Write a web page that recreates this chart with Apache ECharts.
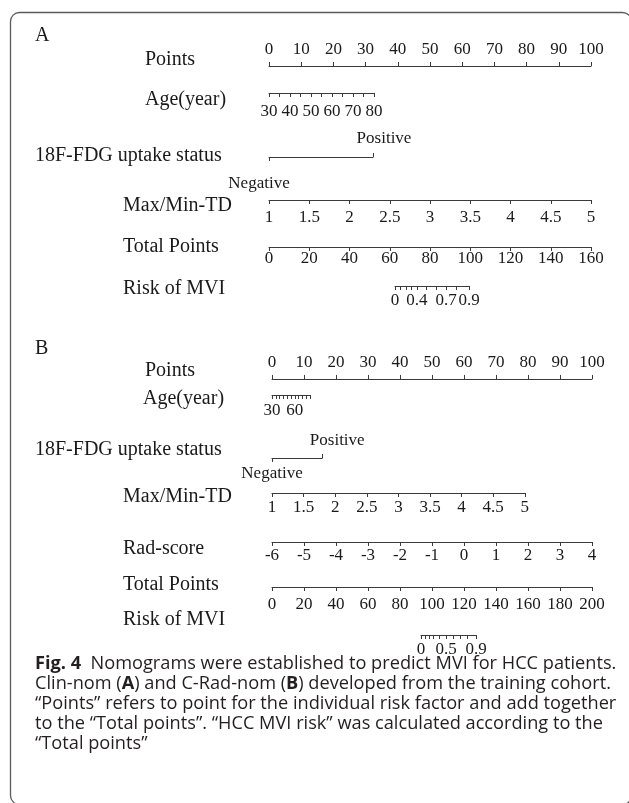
<!DOCTYPE html>
<html>
<head>
<meta charset="utf-8">
<script src="https://cdn.jsdelivr.net/npm/echarts@6/dist/echarts.min.js"></script>
<style>
  html, body { margin: 0; padding: 0; background: #ffffff; }
  #chart { width: 629px; height: 803px; }
</style>
</head>
<body>
<div id="chart"></div>
<script>
// ---------- Panel A: Clin-nom ----------
const rowNamesA = ['Points', 'Age(year)', '18F-FDG uptake status', 'Max/Min-TD', 'Total Points', 'Risk of MVI'];
const pointsRange = [0, 100];
const pointsStep = 10;
const ageRange = [30, 80];
const ageStep = 5;
const ageLabelsA = [30, 40, 50, 60, 70, 80];
const agePointsA = [0, 32.6];
const fdgLevels = ['Negative', 'Positive'];
const fdgPointsA = [0, 32.3];
const tdRange = [1, 5];
const tdStep = 0.5;
const tdPointsA = [0, 100];
const totalRangeA = [0, 160];
const totalStep = 20;
const riskTicksA = [0, 0.1, 0.2, 0.3, 0.4, 0.5, 0.6, 0.7, 0.8, 0.9];
const riskTotalA = [62.6, 65.4, 68.2, 70.9, 73.5, 78.3, 83.1, 88.0, 93.0, 99.4];
const riskLabelsA = [0, 0.4, 0.7, 0.9];

// ---------- Panel B: C-Rad-nom ----------
const rowNamesB = ['Points', 'Age(year)', '18F-FDG uptake status', 'Max/Min-TD', 'Rad-score', 'Total Points', 'Risk of MVI'];
const ageLabelsB = [30, 60];
const agePointsB = [0, 11.9];
const fdgPointsB = [0, 15.7];
const tdPointsB = [0, 79];
const radRange = [-6, 4];
const radStep = 1;
const radPointsB = [0, 100];
const totalRangeB = [0, 200];
const riskTicksB = [0, 0.1, 0.2, 0.3, 0.4, 0.5, 0.6, 0.7, 0.8, 0.9];
const riskTotalB = [93.1, 95.6, 98.1, 100.6, 104.4, 108.75, 113.1, 117.5, 122.0, 127.5];
const riskLabelsB = [0, 0.5, 0.9];

// ---------- Caption ----------
const captionLines = [
  '{b|Fig. 4}  Nomograms were established to predict MVI for HCC patients.',
  'Clin-nom ({b|A}) and C-Rad-nom ({b|B}) developed from the training cohort.',
  '\u201cPoints\u201d refers to point for the individual risk factor and add together',
  'to the \u201cTotal points\u201d. \u201cHCC MVI risk\u201d was calculated according to the',
  '\u201cTotal points\u201d'
];

// ---------- styling / layout ----------
const SERIF = "'Liberation Serif', 'Times New Roman', serif";
const SANS = "'Open Sans', 'Noto Sans', sans-serif";
const INK = '#1a1a1a';
const RULE = '#3a3a3a';
const NUM_SIZE = 17;
const CAT_SIZE = 17;
const CAP_SIZE = 18.2;

const panelA = {
  tag: 'A', tagY: 36, x0: 269, w: 322,
  nameX: [145, 145, 35, 123, 123, 123],
  nameY: [60, 100, 156, 206, 247, 289],
  lineY: { points: 66, age: 93, fdg: 157, td: 200, total: 247, risk: 286 },
  labelY: { points: 49, age: 113, td: 219, total: 260, risk: 302, pos: 138, neg: 185 },
  posShift: 11, negShift: -10
};
const panelB = {
  tag: 'B', tagY: 349, x0: 272, w: 320,
  nameX: [145, 143, 35, 123, 123, 123, 123],
  nameY: [371, 399, 450, 497, 549, 585, 620],
  lineY: { points: 379, age: 395, fdg: 458, td: 493, rad: 542, total: 587, risk: 635 },
  labelY: { points: 362, age: 412, td: 509, rad: 557, total: 606, risk: 651, pos: 440, neg: 475 },
  posShift: 15, negShift: 0
};

const grids = [], xAxes = [], yAxes = [], graphics = [];

function axisBase(gi, o) {
  return {
    type: 'value', gridIndex: gi, position: o.position || 'bottom',
    min: o.min, max: o.max, interval: o.interval,
    splitLine: { show: false },
    axisLine: { show: o.line !== false, onZero: false, lineStyle: { color: RULE, width: 1 } },
    axisTick: Object.assign({ show: true, inside: false, length: 4, lineStyle: { color: RULE, width: 1 } },
      o.tickValues ? { customValues: o.tickValues } : {}),
    axisLabel: Object.assign({
      show: true, color: INK, fontFamily: SERIF, fontSize: o.fontSize || NUM_SIZE,
      margin: o.margin, showMinLabel: true, showMaxLabel: true,
      formatter: o.formatter || (v => String(v))
    }, o.labelValues ? { customValues: o.labelValues } : {}, o.padding ? { padding: o.padding } : {})
  };
}

// one thin grid per nomogram row; its horizontal extent is the row's span on the points/total scale
function addRow(lineY, x0, w, fromPts, toPts, scaleMax, axes) {
  const gi = grids.length;
  grids.push({ left: x0 + fromPts / scaleMax * w, top: lineY, width: (toPts - fromPts) / scaleMax * w, height: 0 });
  yAxes.push({ gridIndex: gi, type: 'value', show: false });
  axes.forEach(a => xAxes.push(axisBase(gi, a)));
}

function marginFor(lineY, labelY, size) {
  return Math.max(0, Math.abs(labelY - lineY) - size / 2 - 1);
}

function buildPanel(P, names, spec) {
  graphics.push({ type: 'text', x: 35, y: P.tagY, style: { text: P.tag, font: '20px ' + SERIF, fill: INK, verticalAlign: 'middle' } });
  names.forEach((n, i) => graphics.push({
    type: 'text', x: P.nameX[i], y: P.nameY[i],
    style: { text: n, font: '20px ' + SERIF, fill: INK, verticalAlign: 'middle', align: 'left' }
  }));
  const L = P.lineY, Y = P.labelY;
  // Points
  addRow(L.points, P.x0, P.w, pointsRange[0], pointsRange[1], 100, [{
    position: 'top', min: pointsRange[0], max: pointsRange[1], interval: pointsStep,
    margin: marginFor(L.points, Y.points, NUM_SIZE)
  }]);
  // Age
  addRow(L.age, P.x0, P.w, spec.agePts[0], spec.agePts[1], 100, [{
    min: ageRange[0], max: ageRange[1], interval: ageStep, labelValues: spec.ageLabels,
    margin: marginFor(L.age, Y.age, NUM_SIZE)
  }]);
  // 18F-FDG uptake status (0 = Negative, 1 = Positive)
  addRow(L.fdg, P.x0, P.w, spec.fdgPts[0], spec.fdgPts[1], 100, [
    { position: 'top', min: 0, max: 1, tickValues: [1], labelValues: [1], fontSize: CAT_SIZE,
      formatter: v => fdgLevels[v], margin: marginFor(L.fdg, Y.pos, CAT_SIZE),
      padding: [0, 0, 0, 2 * P.posShift] },
    { position: 'bottom', line: false, min: 0, max: 1, tickValues: [0], labelValues: [0], fontSize: CAT_SIZE,
      formatter: v => fdgLevels[v], margin: marginFor(L.fdg, Y.neg, CAT_SIZE),
      padding: P.negShift < 0 ? [0, -2 * P.negShift, 0, 0] : [0, 0, 0, 2 * P.negShift] }
  ]);
  // Max/Min-TD
  addRow(L.td, P.x0, P.w, spec.tdPts[0], spec.tdPts[1], 100, [{
    min: tdRange[0], max: tdRange[1], interval: tdStep, margin: marginFor(L.td, Y.td, NUM_SIZE)
  }]);
  // Rad-score (panel B only)
  if (spec.radPts) {
    addRow(L.rad, P.x0, P.w, spec.radPts[0], spec.radPts[1], 100, [{
      min: radRange[0], max: radRange[1], interval: radStep, margin: marginFor(L.rad, Y.rad, NUM_SIZE)
    }]);
  }
  // Total points
  const tMax = spec.total[1];
  addRow(L.total, P.x0, P.w, spec.total[0], tMax, tMax, [{
    min: spec.total[0], max: tMax, interval: totalStep, margin: marginFor(L.total, Y.total, NUM_SIZE)
  }]);
  // Risk of MVI, placed on the total points scale
  const rt = spec.riskTotal, rv = spec.riskTicks;
  addRow(L.risk, P.x0, P.w, rt[0], rt[rt.length - 1], tMax, [{
    min: rt[0], max: rt[rt.length - 1], tickValues: rt,
    labelValues: spec.riskLabels.map(r => rt[rv.indexOf(r)]),
    formatter: v => String(rv[rt.indexOf(v)]),
    margin: marginFor(L.risk, Y.risk, NUM_SIZE)
  }]);
}

buildPanel(panelA, rowNamesA, {
  agePts: agePointsA, ageLabels: ageLabelsA, fdgPts: fdgPointsA, tdPts: tdPointsA,
  total: totalRangeA, riskTotal: riskTotalA, riskTicks: riskTicksA, riskLabels: riskLabelsA
});
buildPanel(panelB, rowNamesB, {
  agePts: agePointsB, ageLabels: ageLabelsB, fdgPts: fdgPointsB, tdPts: tdPointsB, radPts: radPointsB,
  total: totalRangeB, riskTotal: riskTotalB, riskTicks: riskTicksB, riskLabels: riskLabelsB
});

// frame
graphics.unshift({
  type: 'rect', shape: { x: 10.5, y: 12.5, width: 621, height: 792, r: 9 },
  style: { fill: 'none', stroke: '#5a5a5a', lineWidth: 1.3 }, silent: true
});

// caption
const capCenters = [663.5, 684, 704, 724, 744];
captionLines.forEach((t, i) => graphics.push({
  type: 'text', x: 35, y: capCenters[i],
  style: {
    text: t, fontFamily: SANS, fontSize: CAP_SIZE, fill: '#231f20', verticalAlign: 'middle', align: 'left',
    rich: { b: { fontFamily: SANS, fontSize: CAP_SIZE, fontWeight: 'bold', fill: '#231f20' } }
  }
}));

const chart = echarts.init(document.getElementById('chart'), null, { renderer: 'canvas' });
chart.setOption({
  animation: false,
  backgroundColor: '#ffffff',
  grid: grids,
  xAxis: xAxes,
  yAxis: yAxes,
  graphic: graphics,
  series: []
});
</script>
</body>
</html>
